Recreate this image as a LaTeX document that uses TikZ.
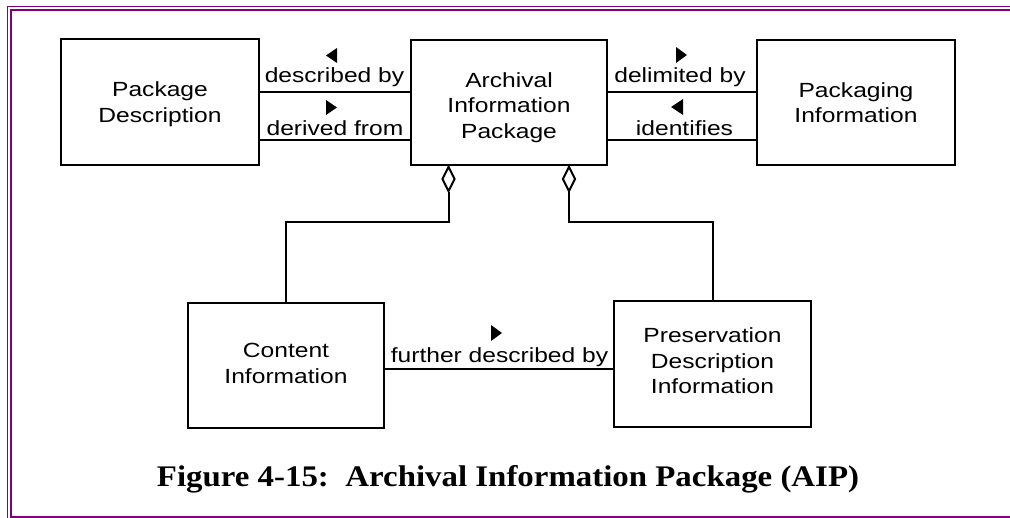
\documentclass[tikz,border=0pt]{standalone}
\usepackage{fontspec}
\setmainfont{Liberation Serif}
\newfontfamily\arialx[FakeStretch=1.2]{Liberation Sans}
\newfontfamily\capfontx[FakeStretch=1.1]{Liberation Serif}
\usetikzlibrary{shapes.geometric}
\definecolor{bordpurple}{HTML}{800080}
\newcommand\lblfont{\arialx\fontsize{20.5}{25.5}\selectfont}
\begin{document}
\begin{tikzpicture}[x=1pt,y=-1pt,
  box/.style={draw, line width=2.6pt, align=center, inner sep=0pt, font=\lblfont},
  conn/.style={draw, line width=2pt},
  lbl/.style={anchor=base, inner sep=0pt, font=\lblfont},
  tri/.style={fill=black},
  bord/.style={draw=bordpurple, line width=1.5pt},
  aggdiamond/.style={diamond, draw, fill=white, line width=2pt, inner sep=0pt, minimum width=13pt, minimum height=25pt, anchor=north}]
\useasboundingbox (0,0) rectangle (1010,518);
% border
\draw[bord] (7.7,518) -- (7.7,6.7) -- (1012,6.7);
\draw[bord] (1012,517) -- (11,517) -- (11,10) -- (1012,10);
% boxes
\node[box, text depth=0pt, minimum width=198pt, minimum height=126pt] (pd) at (160,102) {Package\\Description};
\node[box, text depth=0pt, text height=72pt, minimum width=196pt, minimum height=125pt] (aip) at (509,102.5) {Archival\\Information\\Package};
\node[box, minimum width=198pt, minimum height=125pt] (pi) at (856,102.5) {Packaging\\Information};
\node[box, text depth=4pt, minimum width=196pt, minimum height=125pt] (ci) at (286,365.5) {Content\\Information};
\node[box, text depth=6pt, minimum width=197pt, minimum height=126pt] (pdi) at (712.5,364) {Preservation\\Description\\Information};
% aggregation diamonds
\node[aggdiamond] (dm1) at (448.5,165.5) {};
\node[aggdiamond] (dm2) at (569,165.5) {};
% row coordinates
\coordinate (r1) at (0,92);
\coordinate (r2) at (0,140);
\coordinate (r3) at (0,369);
\coordinate (b1) at (448.5,222.5);
\coordinate (b2) at (569,222.5);
% connectors
\draw[conn] (pd.east |- r1) -- (aip.west |- r1);
\draw[conn] (pd.east |- r2) -- (aip.west |- r2);
\draw[conn] (aip.east |- r1) -- (pi.west |- r1);
\draw[conn] (aip.east |- r2) -- (pi.west |- r2);
\draw[conn] (ci.east |- r3) -- (pdi.west |- r3);
\draw[conn] (dm1.south) -- (b1) -| (ci.north);
\draw[conn] (dm2.south) -- (b2) -| (pdi.north);
% labels
\node[lbl] (l1) at (334.5,83) {described by};
\node[lbl] (l2) at (335,136) {derived from};
\node[lbl] (l3) at (680,83) {delimited by};
\node[lbl] (l4) at (684.5,136) {identifies};
\node[lbl] (l5) at (499.5,363) {further described by};
% direction triangles
\fill[tri] (326,55.5) -- (337,48) -- (337,63) -- cycle;
\fill[tri] (326,100) -- (326,115) -- (337,107.5) -- cycle;
\fill[tri] (676,47) -- (676,63) -- (687,55) -- cycle;
\fill[tri] (671,107) -- (683,99) -- (683,115) -- cycle;
\fill[tri] (491,325) -- (491,341) -- (502,333) -- cycle;
% caption
\node[anchor=base, inner sep=0pt, font=\capfontx\bfseries\fontsize{29.9}{32}\selectfont] (cap) at (508,486) {Figure 4-15:\ \ Archival Information Package (AIP)};
\end{tikzpicture}
\end{document}
